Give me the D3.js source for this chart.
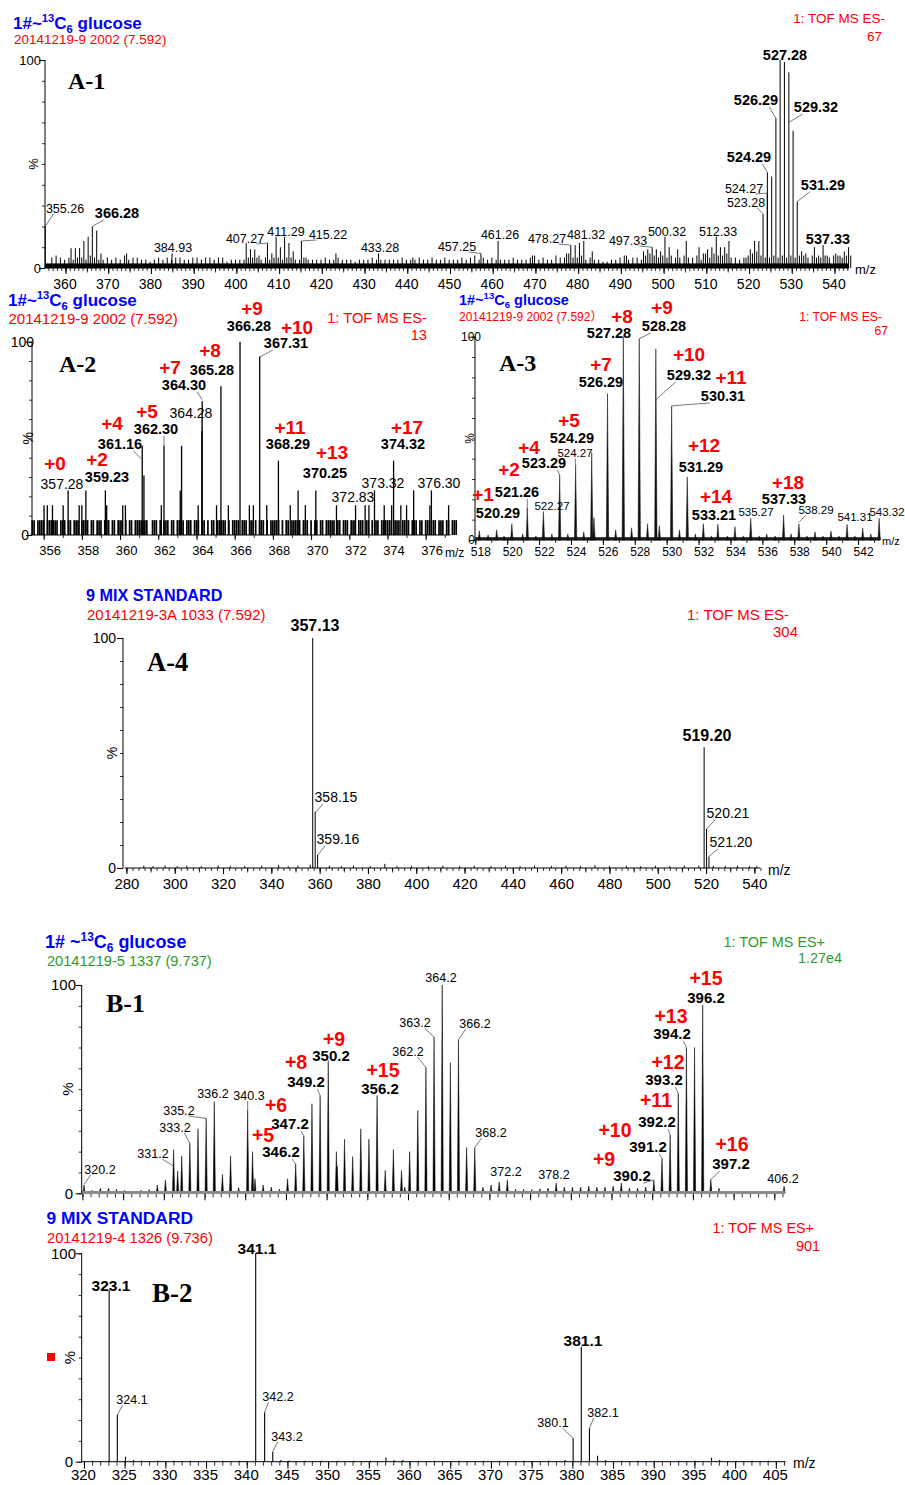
<!DOCTYPE html>
<html><head><meta charset="utf-8"><title>MS spectra</title>
<script src="https://cdn.jsdelivr.net/npm/d3@7/dist/d3.min.js"></script>
<style>html,body{margin:0;padding:0;background:#fff}svg{display:block}</style>
</head><body>
<script>
// ======================= DATA =======================
const yTicks = [0,10,20,30,40,50,60,70,80,90,100];

// ---- A-1 (1#~13C6 glucose, ES-) ----
const a1Mz  = [355.26,361.3,362.3,363.3,364.3,365.3,366.28,367.3,368.3,374.3,384.93,402.3,403.3,404.3,405.3,407.27,408.3,409.3,410.3,411.29,412.3,413.3,415.22,416.3,423.3,433.28,441.3,457.25,461.26,469.3,477.3,478.27,479.3,480.3,481.32,483.3,491.3,495.3,496.3,497.33,498.3,499.3,500.32,501.3,503.3,505.3,508.3,509.3,510.3,511.3,512.33,513.3,514.3,515.3,519.3,520.3,521.3,522.3,523.28,524.27,524.29,525.3,526.29,527.28,528.28,529.32,530.31,531.29,532.3,533.3,535.3,536.3,537.33,538.3,540.3,541.3,542.3,543.3];
const a1Int = [20,9.5,9.5,9.6,13,15,20,18,7,7,7,12,9,9,6,12,7,15,10,15,12,8,13,5,7,7,5,7,13,6,7,11,11,12,13,8,6,8,9,10,9,8,15,10,9,13,10,7,9,10,15,10,10,13,5,9,13,13,26,36,46,44,72,100,99,94,66,32,8,7,10,6,11,6,7,6,8,10];
const a1NoiseFrom = 356;
const a1Noise = [5,6,5,4,5,4,5,5,4,6, 5,4,4,5,4,5,4,6,4,5, 5,4,4,3,4,5,4,5,4,5, 5,4,4,5,5,4,5,5,4,5,
  5,3,4,4,4,4,5,5,5,4, 5,4,5,5,4,5,5,4,4,5, 4,4,4,4,5,4,4,5,4,4, 4,3,4,4,4,5,4,4,4,4,
  4,4,5,4,4,4,5,4,4,5, 4,4,5,4,4,4,5,4,5,6, 4,5,4,5,4,4,4,4,5,4, 4,4,5,6,4,5,4,4,6,5,
  5,7,5,5,6,4,5,4,4,3, 3,4,4,5,6,4,5,5,4,6, 7,6,5,6,5,6,5,5,6,5, 5,6,4,7,5,7,6,6,7,5,
  5,4,5,6,7,8,6,5,5,6, 5,6,5,6,5,6,6,5,6,5, 5,6,5,6,6,5,6,6];
const a1Floor = 2.2;
const a1Ticks = [360,370,380,390,400,410,420,430,440,450,460,470,480,490,500,510,520,530,540];

// ---- A-2 (zoom 356-376, counts, max 13) ----
const a2Mz = [356.02,356.19,356.46,357.02,357.28,357.86,358.0,358.21,359.23,359.3,360.14,360.28,361.16,361.25,362.16,362.3,363.15,363.22,364.09,364.28,364.3,365.05,365.28,365.67,366.28,366.77,366.98,367.31,367.68,368.29,368.91,369.32,369.7,370.25,371.33,372.33,372.83,373.03,373.32,373.83,374.22,374.32,374.7,375.0,375.37,376.22,376.3,377.2];
const a2Counts = [2,2,2,2,3,2,2,3,3,2,2,2,6,4,2,6,3,6,2,7,9,2,10,2,13,2,2,12,2,5,2,3,2,3,2,2,2,2,3,2,2,5,2,2,3,2,3,2];
const a2MaxCount = 13;
const a2BandFrom = 355.4, a2BandStep = 0.1;   // one-count noise occupancy per 0.1 m/z
const a2Band = "1101111011111101110110111011110110111011101101110101101111111001110101110110111101110111011010110111110101111011101101011101011111010110111110111010110110111110110111011101110110101101111110111011110111011011101101110110111";
const a2Ticks = [356,358,360,362,364,366,368,370,372,374,376];

// ---- A-3 (zoom 518-543) ----
const a3Mz = [518.25,518.8,519.34,519.8,520.29,520.97,521.26,521.8,522.27,522.8,523.29,523.8,524.29,524.8,525.3,525.44,526.29,526.8,527.28,527.8,528.28,528.8,529.32,529.54,530.31,530.8,531.29,531.8,532.3,532.8,533.21,533.8,534.28,534.8,535.27,535.8,536.27,536.8,537.33,537.8,538.29,538.8,539.3,539.8,540.3,540.8,541.31,541.8,542.29,542.8,543.32];
const a3Int = [4.5,2.5,5,2,8,3,15.6,2,14,3,32,3,37,4,43,11,72,5,100,6,99,8,94,7,66,5,31,3,8,2,7.7,2,6.5,2,10.7,2,3,2,12.3,3,8,2,4,2,4.4,2,7.7,2,6,3,10.7];
const a3Floor = 1.4;
const a3Ticks = [518,520,522,524,526,528,530,532,534,536,538,540,542];

// ---- A-4 (9 MIX STANDARD, ES-) ----
const a4Mz = [287.2,291,296,301,305,311,318,323,329,336,343,347,351,356.1,357.13,358.15,359.16,364,369,374,381,387,392,398,405,411,418,424,431,437,443,449,456,462,468,474,480,487,493,499,505,511,517,519.2,520.21,521.2,523,528,533,538,541];
const a4Int = [1,0.8,1,0.8,1,0.8,1,0.8,0.8,1,1.3,0.8,1,1.5,100,24.5,5.8,1,0.8,1,0.8,1.8,0.8,1,0.8,1,0.8,1,0.8,1,0.8,1,0.8,1,0.8,1.2,0.8,1,0.8,1,0.8,1,1,52.5,17,5,1,0.8,1,0.8,0.8];
const a4Ticks = [280,300,320,340,360,380,400,420,440,460,480,500,520,540];

// ---- B-1 (1# ~13C6 glucose, ES+) ----
const b1Mz = [320.2,321.2,322.2,323.2,324.2,325.2,326.2,327.2,328.2,329.2,330.2,331.2,331.7,332.2,333.2,334.2,335.2,336.2,337.2,338.2,339.2,340.3,340.9,341.2,342.2,343.2,344.2,345.2,346.2,347.2,348.2,349.2,350.2,351.2,351.3,352.2,353.2,354.2,355.2,356.2,357.2,358.2,359.2,359.6,360.2,361.2,362.2,363.2,364.2,365.2,366.2,367.2,368.2,369.2,370.2,371.2,372.2,373.2,374.2,375.2,376.2,377.2,378.2,379.2,380.2,381.2,382.2,383.2,384.2,385.2,386.2,387.2,388.2,389.2,390.2,391.2,392.2,393.2,394.2,395.2,396.2,397.2,398.2,399.2,400.2,401.2,402.2,403.2,404.2,405.2,406.2];
const b1Int = [4,1.5,2.5,2.5,2,1.5,1,1.5,1.8,4,6.4,21,10.7,18,24,31,36,44,9,18,2.7,40,20,7,4,3,2,7,14,27.6,43,47,63.7,20,13,26,17.6,31,26,47,11,21,11,3,20,39.7,60.5,75,100,62.7,73.6,22,22,3,4,5.5,6.4,2,2,1.8,2.2,2.5,5,3,3,3,3.5,3,3,3.5,5,2.5,2.5,3,6.4,16.8,28,48,70,70,90.4,6.7,2.5,1,0.8,0.8,0.8,0.8,0.8,1,3.4];
const b1Floor = 1.1;

// ---- B-2 (9 MIX STANDARD, ES+) ----
const b2Mz = [321.1,323.1,324.1,325.1,326.1,327.1,329.1,331.1,333.1,335.1,337.1,339.1,341.1,342.2,343.2,344.2,345.2,347.2,349.2,351.2,353.2,355.2,357.1,358.1,359.2,361.1,363.1,366.1,369.1,371.1,374.1,377.1,379.1,380.1,381.1,382.1,383.1,384.1,386.1,388.1,390.1,393.1,395.1,397.1,398.1,400.1,402.1,404.1];
const b2Int = [0.5,82.4,22.4,2.4,0.8,0.6,0.6,0.5,0.5,0.5,0.5,0.5,100,23.7,4.8,0.8,0.6,0.5,0.5,0.5,0.5,0.5,2,0.8,0.8,0.5,0.5,0.5,0.5,0.5,0.5,0.6,0.8,11.2,55.2,16,2.8,0.8,0.5,0.5,0.5,0.5,0.5,1.9,0.8,0.5,0.5,0.5];
const b2Ticks = [320,325,330,335,340,345,350,355,360,365,370,375,380,385,390,395,400,405];

// ======================= LAYOUT (annotation placement) =======================
// [text, centerX, centerY, kind (b=bold m/z, n=normal m/z, r=red isotope tag), leader target intensity or null]
const labA1 = [["355.26",65,208,"n",20],["366.28",117,213,"b",20],["384.93",173,247,"n",null],["407.27",245,238,"n",12],
  ["411.29",286,231,"n",null],["415.22",328,234,"n",13],["433.28",380,247,"n",null],["457.25",457,246,"n",7],
  ["461.26",500,234,"n",null],["478.27",547,238,"n",11],["481.32",586,234,"n",null],["497.33",628,240,"n",10],
  ["500.32",667,231,"n",null],["512.33",718,231,"n",null],["523.28",746,202,"n",26],["524.27",744,188,"n",36],
  ["524.29",749,157,"b",46],["526.29",756,100,"b",72],["527.28",785,55,"b",null],["529.32",816,107,"b",70],
  ["531.29",823,185,"b",32],["537.33",828,239,"b",null]];
const labA2 = [["+0",55,463,"r"],["357.28",62,484,"n",null],["+2",97,459,"r"],["359.23",107,477,"b",null],
  ["+4",112,423,"r"],["361.16",120,444,"b",39],["+5",147,411,"r"],["362.30",156,429,"b",46],
  ["+7",170,367,"r"],["364.30",184,385,"b",70],["364.28",191,413,"n",54],["+8",210,350,"r"],["365.28",212,370,"b",null],
  ["+9",252,308,"r"],["366.28",249,326,"b",null],["+10",297,327,"r"],["367.31",286,343,"b",92],
  ["+11",290,427,"r"],["368.29",288,444,"b",null],["+13",332,452,"r"],["370.25",325,473,"b",null],
  ["372.83",353,497,"n",null],["373.32",383,483,"n",null],["+17",407,427,"r"],["374.32",403,444,"b",null],["376.30",439,483,"n",null]];
const labA3 = [["+1",483,494,"r"],["520.29",498,513,"b",null],["+2",509,469,"r"],["521.26",517,492,"b",14],
  ["522.27",552,506,"n",null],["+4",529,447,"r"],["523.29",544,463,"b",32],["524.27",575,453,"n",37],
  ["+5",569,420,"r"],["524.29",572,438,"b",null],["+7",601,364,"r"],["526.29",601,382,"b",null],
  ["+8",622,316,"r"],["527.28",609,333,"b",null],["+9",662,307,"r"],["528.28",664,326,"b",99],
  ["+10",689,354,"r"],["529.32",689,375,"b",69],["+11",731,377,"r"],["530.31",723,396,"b",66],
  ["+12",704,445,"r"],["531.29",701,467,"b",null],["+14",716,496,"r"],["533.21",714,515,"b",null],
  ["535.27",756,512,"n",null],["+18",788,482,"r"],["537.33",784,499,"b",null],["538.29",816,510,"n",8.7],
  ["541.31",855,517,"n",null],["543.32",887,512,"n",null]];
const labA4 = [["357.13",315,625,"b",null],["358.15",336,797,"n",24],["359.16",338,839,"n",5.6],
  ["519.20",707,735,"b",null],["520.21",728,813,"n",17],["521.20",731,842,"n",5]];
const labB1 = [["320.2",100,1169,"n",4.3],["331.2",153,1153,"n",13],["333.2",175,1127,"n",24],["335.2",179,1110,"n",36],
  ["336.2",213,1093,"n",null],["340.3",249,1095,"n",40],["+6",276,1105,"r"],["347.2",290,1124,"b",27.6],
  ["+5",263,1135,"r"],["346.2",281,1152,"b",14],["+8",296,1062,"r"],["349.2",306,1082,"b",47],
  ["+9",334,1039,"r"],["350.2",331,1056,"b",null],["+15",383,1070,"r"],["356.2",380,1089,"b",null],
  ["362.2",408,1051,"n",60.5],["363.2",415,1022,"n",75],["364.2",441,977,"n",null],["366.2",475,1023,"n",73.6],
  ["368.2",491,1132,"n",22],["372.2",506,1171,"n",null],["378.2",554,1174,"n",null],
  ["+9",604,1159,"r"],["390.2",632,1176,"b",6.4],["+10",615,1130,"r"],["391.2",648,1147,"b",16.8],
  ["+11",656,1100,"r"],["392.2",657,1122,"b",28],["+12",668,1062,"r"],["393.2",664,1080,"b",48],
  ["+13",671,1016,"r"],["394.2",672,1034,"b",70],["+15",706,978,"r"],["396.2",706,998,"b",null],
  ["+16",732,1144,"r"],["397.2",731,1164,"b",6.7],["406.2",783,1178,"n",null]];
const labB2 = [["323.1",111,1285,"b",null],["324.1",132,1399,"n",22.4],["341.1",257,1248,"b",null],
  ["342.2",278,1396,"n",23.7],["343.2",287,1436,"n",4.8],["381.1",583,1340,"b",null],
  ["380.1",553,1422,"n",11.2],["382.1",603,1412,"n",16]];

// ======================= DRAWING =======================
const SANS = "'Liberation Sans', Arial, Helvetica, sans-serif";
const SANS_CJK = "'Liberation Sans', Arial, 'Noto Sans CJK SC', sans-serif";
const SERIF = "'Liberation Serif', 'Times New Roman', serif";
const BLUE = "#0000ff", RED = "#ff0000", GREEN = "#2e9a2e";

const svg = d3.select("body").append("svg").attr("width", 905).attr("height", 1485);
svg.append("rect").attr("width", 905).attr("height", 1485).attr("fill", "#fff");

function text(x, y, s, o = {}) {
  const t = svg.append("text").attr("x", x).attr("y", y)
    .attr("font-family", o.family || SANS).attr("font-size", o.size || 13)
    .attr("font-weight", o.bold ? "bold" : "normal").attr("fill", o.color || "#000")
    .attr("text-anchor", o.anchor || "start");
  if (o.dy) t.attr("dy", o.dy);
  if (o.rotate) t.attr("transform", `rotate(${o.rotate},${x},${y})`);
  t.text(s);
  return t;
}

function glucoseTitle(x, y, size, lead) {
  const t = svg.append("text").attr("x", x).attr("y", y).attr("font-family", SANS)
    .attr("font-size", size).attr("font-weight", "bold").attr("fill", BLUE);
  t.append("tspan").text(lead);
  t.append("tspan").attr("font-size", size * 0.66).attr("dy", -size * 0.4).text("13");
  t.append("tspan").attr("dy", size * 0.4).text("C");
  t.append("tspan").attr("font-size", size * 0.66).attr("dy", size * 0.22).text("6");
  t.append("tspan").attr("dy", -size * 0.22).text(" glucose");
}

function header(h) {
  if (h.lead) glucoseTitle(h.tx, h.ty, h.tsize, h.lead);
  else text(h.tx, h.ty, h.title, {size: h.tsize, bold: true, color: BLUE});
  text(h.sx, h.sy, h.sub, {size: h.ssize, color: h.scolor, family: SANS_CJK});
  text(h.r1x, h.r1y, h.r1, {size: h.rsize, color: h.scolor, anchor: "end", dy: "0.35em"});
  text(h.r2x, h.r2y, h.r2, {size: h.rsize, color: h.scolor, anchor: "end", dy: "0.35em"});
  text(h.idx, h.idy, h.id, {family: SERIF, bold: true, size: h.idsize});
}

function sticks(x, y, mz, ints, o = {}) {
  const d = mz.map((m, i) => ({m, v: ints[i]}));
  const y0 = y(0);
  const col = o.color || "#000";
  if (o.tri) {
    svg.append("g").selectAll("path").data(d).join("path")
      .attr("d", p => `M${x(p.m) - o.tri},${y0}L${x(p.m)},${y(p.v)}L${x(p.m) + o.tri},${y0}Z`)
      .attr("fill", col).attr("stroke", col).attr("stroke-width", o.width || 0.6);
  } else {
    svg.append("g").selectAll("line").data(d).join("line")
      .attr("x1", p => x(p.m)).attr("x2", p => x(p.m))
      .attr("y1", y0).attr("y2", p => y(p.v))
      .attr("stroke", col).attr("stroke-width", o.width || 1);
  }
}

function floorBand(x, y, level, color) {
  const [r0, r1] = x.range();
  svg.append("rect").attr("x", r0).attr("width", r1 - r0)
    .attr("y", y(level)).attr("height", y(0) - y(level)).attr("fill", color);
}

function xAxis(x, y0, o) {
  const [r0, r1] = x.range(), [d0, d1] = x.domain();
  const inDom = v => v >= d0 - 1e-9 && v <= d1 + 1e-9;
  [[o.minor || [], o.minorLen || 3], [o.mid || [], o.midLen || 5]].forEach(([vals, len]) => {
    if (!vals.length) return;
    const g = svg.append("g").attr("transform", `translate(0,${y0})`)
      .call(d3.axisBottom(x).tickValues(vals.filter(inDom)).tickSize(len).tickSizeOuter(0).tickFormat(""));
    g.select(".domain").remove();
    g.selectAll("line").attr("stroke", "#000").attr("stroke-width", 0.8);
  });
  const g = svg.append("g").attr("transform", `translate(0,${y0})`)
    .call(d3.axisBottom(x).tickValues(o.ticks.filter(inDom)).tickSize(o.majorLen || 6).tickSizeOuter(0)
      .tickFormat(o.noLabels ? "" : d3.format("d")));
  g.select(".domain").remove();
  g.selectAll("line").attr("stroke", "#000");
  g.selectAll("text").attr("font-family", SANS).attr("font-size", o.fs).attr("fill", "#000")
    .attr("y", (o.labelY || y0) - y0).attr("dy", "0.36em").attr("dx", o.dx || 0);
  svg.append("line").attr("x1", r0).attr("x2", r1).attr("y1", y0).attr("y2", y0)
    .attr("stroke", o.axisColor || "#000").attr("stroke-width", o.axisWidth || 1);
  if (o.mz) text(o.mz[0], o.mz[1], "m/z", {size: o.mz[2], dy: "0.35em"});
}

function yAxis(xa, y, o) {
  const g = svg.append("g").attr("transform", `translate(${xa},0)`)
    .call(d3.axisLeft(y).tickValues(yTicks).tickSize(3).tickSizeOuter(0).tickFormat(""));
  g.select(".domain").remove();
  g.selectAll("line").attr("stroke", "#000").attr("stroke-width", 0.8);
  const g2 = svg.append("g").attr("transform", `translate(${xa},0)`)
    .call(d3.axisLeft(y).tickValues([0, 100]).tickSize(6).tickSizeOuter(0).tickFormat(""));
  g2.select(".domain").remove();
  g2.selectAll("line").attr("stroke", "#000");
  svg.append("line").attr("x1", xa).attr("x2", xa).attr("y1", y(0)).attr("y2", y(100)).attr("stroke", "#000");
  text(o.l100x, y(100), "100", {size: o.fs, anchor: "end", dy: "0.36em"});
  text(o.l0x, y(0), "0", {size: o.fs, anchor: "end", dy: "0.36em"});
  text(o.px, y(50), "%", {size: o.fs, anchor: "middle", dy: "0.35em", rotate: -90});
}

function labels(x, y, list, fs) {
  list.forEach(([s, cx, cy, kind, li]) => {
    const size = fs[kind];
    const t = text(cx, cy, s, {size, bold: kind !== "n", color: kind === "r" ? RED : "#000",
      anchor: "middle", dy: "0.36em"});
    if (li != null) {
      const w = t.node().getComputedTextLength();
      const tx = x(parseFloat(s)), ty = y(li);
      const sx = Math.max(cx - 0.3 * w, Math.min(cx + 0.3 * w, tx));
      const sy = cy + size * 0.48;
      svg.append("line").attr("x1", sx).attr("y1", sy).attr("x2", tx).attr("y2", ty)
        .attr("stroke", "#555").attr("stroke-width", 0.8);
    }
  });
}

// ---------------- A-1 ----------------
{
  const x = d3.scaleLinear().domain([355.2, 543.4]).range([45, 849]);
  const y = d3.scaleLinear().domain([0, 100]).range([268, 60]);
  header({lead: "1#~", tx: 13, ty: 29, tsize: 17,
    sub: "20141219-9 2002 (7.592)", sx: 14, sy: 44, ssize: 13.5, scolor: RED,
    r1: "1: TOF MS ES-", r1x: 885, r1y: 18, r2: "67", r2x: 882, r2y: 36, rsize: 13.5,
    id: "A-1", idx: 68, idy: 89, idsize: 24});
  floorBand(x, y, a1Floor, "#000");
  sticks(x, y, a1Noise.map((v, i) => a1NoiseFrom + i + 0.8), a1Noise);
  sticks(x, y, a1Mz, a1Int);
  xAxis(x, 268, {ticks: a1Ticks, minor: d3.range(356, 544, 1), mid: d3.range(355, 544, 5), midLen: 4.5,
    majorLen: 6, fs: 14, labelY: 284, dx: -1, mz: [855, 269, 13]});
  yAxis(45, y, {l100x: 41, l0x: 41, px: 33, fs: 13});
  labels(x, y, labA1, {b: 14.5, n: 12.5, r: 19});
}

// ---------------- A-2 ----------------
{
  const x = d3.scaleLinear().domain([355.3, 377.3]).range([30.3, 450.5]);
  const y = d3.scaleLinear().domain([0, 100]).range([535, 341.7]);
  header({lead: "1#~", tx: 8, ty: 306, tsize: 17,
    sub: "20141219-9 2002 (7.592)", sx: 8.5, sy: 324, ssize: 15, scolor: RED,
    r1: "1: TOF MS ES-", r1x: 427, r1y: 318, r2: "13", r2x: 427, r2y: 335, rsize: 14.7,
    id: "A-2", idx: 59, idy: 372, idsize: 24});
  const bandMz = [], bandInt = [];
  a2Band.split("").forEach((c, i) => { if (c === "1") { bandMz.push(a2BandFrom + i * a2BandStep); bandInt.push(100 / a2MaxCount); } });
  sticks(x, y, bandMz, bandInt, {width: 1.7});
  sticks(x, y, a2Mz, a2Counts.map(c => c / a2MaxCount * 100), {width: 1.3});
  xAxis(x, 535, {ticks: a2Ticks, minor: d3.range(356, 378, 1), majorLen: 5, fs: 13, labelY: 550, dx: 6,
    mz: [445, 553, 12]});
  yAxis(32, y, {l100x: 34, l0x: 29, px: 28, fs: 14});
  labels(x, y, labA2, {b: 14.5, n: 14, r: 19});
}

// ---------------- A-3 ----------------
{
  const x = d3.scaleLinear().domain([518, 543.4]).range([475.3, 880.4]);
  const y = d3.scaleLinear().domain([0, 100]).range([540, 336.7]);
  header({lead: "1#~", tx: 459, ty: 305, tsize: 14.5,
    sub: "20141219-9 2002 (7.592\uFF09", sx: 459, sy: 321, ssize: 12, scolor: RED,
    r1: "1: TOF MS ES-", r1x: 882, r1y: 317, r2: "67", r2x: 888, r2y: 331, rsize: 12.2,
    id: "A-3", idx: 499, idy: 371, idsize: 24});
  floorBand(x, y, a3Floor, "#222");
  sticks(x, y, a3Mz, a3Int, {tri: 1.2, width: 0.5, color: "#111"});
  xAxis(x, 540, {ticks: a3Ticks, minor: d3.range(518, 544, 1), majorLen: 5, fs: 12, labelY: 552, dx: 5,
    mz: [882, 541, 11]});
  yAxis(475, y, {l100x: 481, l0x: 475, px: 470, fs: 12});
  labels(x, y, labA3, {b: 14.5, n: 11.5, r: 19});
}

// ---------------- A-4 ----------------
{
  const x = d3.scaleLinear().domain([279.2, 542.5]).range([124.5, 760.4]);
  const y = d3.scaleLinear().domain([0, 100]).range([868, 638]);
  header({title: "9 MIX STANDARD", tx: 86, ty: 601, tsize: 16.2,
    sub: "20141219-3A 1033 (7.592)", sx: 87, sy: 620, ssize: 15, scolor: RED,
    r1: "1: TOF MS ES-", r1x: 789, r1y: 615, r2: "304", r2x: 798, r2y: 632, rsize: 15,
    id: "A-4", idx: 147, idy: 671, idsize: 26.5});
  sticks(x, y, a4Mz, a4Int);
  xAxis(x, 868, {ticks: a4Ticks, minor: d3.range(280, 543, 2.5), mid: d3.range(280, 543, 10), midLen: 4.5,
    majorLen: 6, fs: 15, labelY: 884, mz: [768, 870, 14]});
  yAxis(123, y, {l100x: 116, l0x: 116, px: 112, fs: 14});
  labels(x, y, labA4, {b: 16, n: 14, r: 20});
}

// ---------------- B-1 ----------------
{
  const x = d3.scaleLinear().domain([319.9, 406.3]).range([81.6, 784.9]);
  const y = d3.scaleLinear().domain([0, 100]).range([1193.3, 985]);
  header({lead: "1# ~", tx: 45, ty: 948, tsize: 18,
    sub: "20141219-5 1337 (9.737)", sx: 47, sy: 966, ssize: 14.6, scolor: GREEN,
    r1: "1: TOF MS ES+", r1x: 825, r1y: 942, r2: "1.27e4", r2x: 842, r2y: 958, rsize: 14.4,
    id: "B-1", idx: 106, idy: 1012, idsize: 26});
  sticks(x, y, b1Mz, b1Int, {tri: 1.1, width: 0.5});
  floorBand(x, y, b1Floor, "#8c8c8c");
  xAxis(x, 1193.3, {ticks: d3.range(320, 407, 5), minor: d3.range(320, 407, 1), minorLen: 4, majorLen: 7,
    noLabels: true, fs: 14, axisColor: "#8c8c8c", axisWidth: 1.5});
  yAxis(81.7, y, {l100x: 76, l0x: 73, px: 68, fs: 15});
  labels(x, y, labB1, {b: 15, n: 12.5, r: 19.5});
}

// ---------------- B-2 ----------------
{
  const x = d3.scaleLinear().domain([319.7, 406.2]).range([81.5, 785.6]);
  const y = d3.scaleLinear().domain([0, 100]).range([1461.7, 1253.3]);
  header({title: "9 MIX STANDARD", tx: 46.5, ty: 1224, tsize: 17.4,
    sub: "20141219-4 1326 (9.736)", sx: 47, sy: 1243, ssize: 14.7, scolor: RED,
    r1: "1: TOF MS ES+", r1x: 814, r1y: 1228, r2: "901", r2x: 820, r2y: 1246, rsize: 14.4,
    id: "B-2", idx: 152, idy: 1302, idsize: 27});
  sticks(x, y, b2Mz, b2Int, {width: 1.1});
  xAxis(x, 1461.7, {ticks: b2Ticks, minor: d3.range(320, 407, 1), minorLen: 4, majorLen: 7,
    fs: 15, labelY: 1475, dx: -1, mz: [793, 1463, 14]});
  yAxis(81.7, y, {l100x: 76, l0x: 73, px: 70, fs: 15});
  svg.append("rect").attr("x", 47).attr("y", 1353).attr("width", 8).attr("height", 8).attr("fill", RED);
  labels(x, y, labB2, {b: 15.5, n: 12.5, r: 20});
}
</script>
</body></html>
